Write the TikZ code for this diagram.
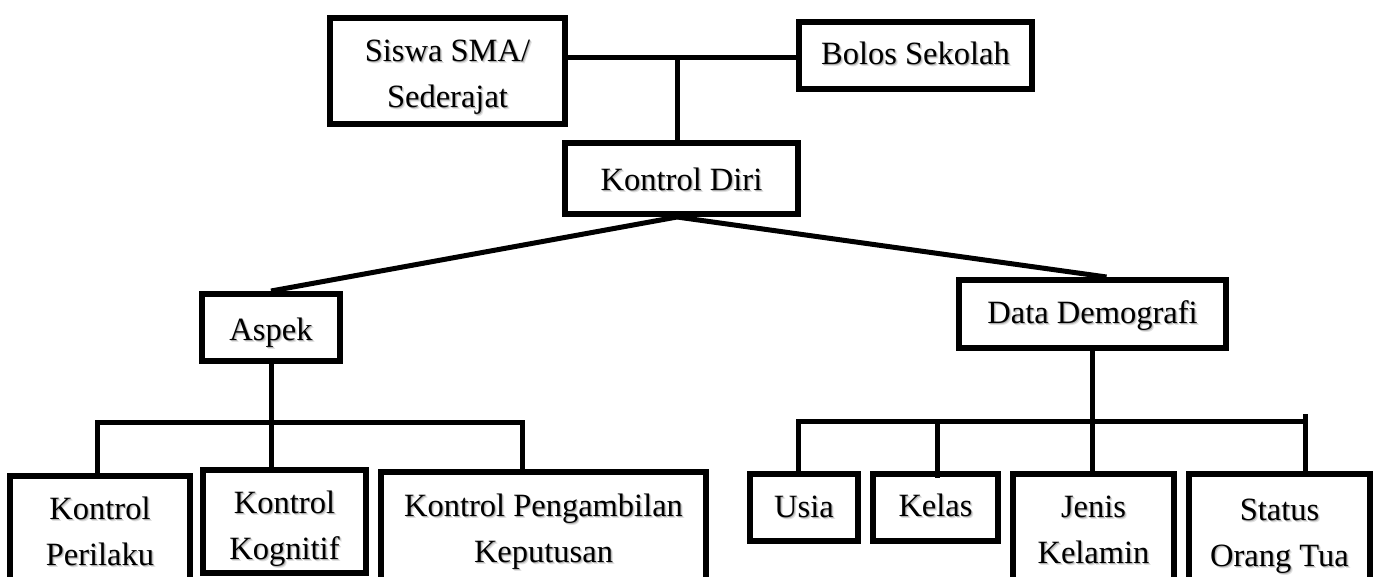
\documentclass[tikz,border=0pt]{standalone}
\usepackage{fontspec}
\setmainfont{Liberation Serif}
\newcommand\sh[1]{\leavevmode\rlap{\hspace{2pt}\raisebox{-2pt}{\textcolor{black!12}{#1}}}\rlap{\hspace{1pt}\raisebox{-1pt}{\textcolor{black!30}{#1}}}#1}
\newcommand\tx[2]{\raisebox{#1}[\height][\depth]{\begin{tabular}{@{}c@{}}#2\end{tabular}}}
\begin{document}
\begin{tikzpicture}[x=1pt,y=-1pt,
  box/.style={draw, line width=6pt, inner sep=0pt, align=center,
    font=\fontsize{32.5}{46}\selectfont},
  conn/.style={line width=5pt}]
\useasboundingbox (0,0) rectangle (1378,576);
\clip (0,0) rectangle (1378,576);
\fill[white] (0,0) rectangle (1378,576);
% nodes
\node[box, minimum width=235pt, minimum height=106pt] (siswa) at (447.5,71) {\tx{-4pt}{\sh{Siswa SMA/}\\\sh{Sederajat}}};
\node[box, minimum width=233pt, minimum height=67pt] (bolos) at (915.5,55.5) {\tx{0pt}{\sh{Bolos Sekolah}}};
\node[box, minimum width=233pt, minimum height=71pt] (kd) at (681.5,178.5) {\tx{-3pt}{\sh{Kontrol Diri}}};
\node[box, minimum width=138pt, minimum height=67pt] (aspek) at (271,327.5) {\tx{-4pt}{\sh{Aspek}}};
\node[box, minimum width=267pt, minimum height=68pt] (dd) at (1092.5,314) {\tx{-0.5pt}{\sh{Data Demografi}}};
\node[box, minimum width=180pt, minimum height=112pt] (perilaku) at (100,532) {\tx{-1pt}{\sh{Kontrol}\\\sh{Perilaku}}};
\node[box, minimum width=163pt, minimum height=103pt] (kognitif) at (284.5,521.5) {\tx{-6pt}{\sh{Kontrol}\\\sh{Kognitif}}};
\node[box, minimum width=325pt, minimum height=113pt] (peng) at (543.5,528.5) {\tx{-1.5pt}{\sh{Kontrol Pengambilan}\\\sh{Keputusan}}};
\node[box, minimum width=108pt, minimum height=67pt] (usia) at (804,507.5) {\tx{-1pt}{\sh{Usia}}};
\node[box, minimum width=125pt, minimum height=67pt] (kelas) at (935.5,507.5) {\tx{0pt}{\sh{Kelas}}};
\node[box, minimum width=161pt, minimum height=112pt] (jenis) at (1093.5,530) {\tx{-1.5pt}{\sh{Jenis}\\\sh{Kelamin}}};
\node[box, minimum width=181pt, minimum height=116pt] (status) at (1279.5,532) {\tx{-2pt}{\sh{Status}\\\sh{Orang Tua}}};
% junction coordinates
\coordinate (j1) at (677,57.5);
\coordinate (lb1) at (97,422);
\coordinate (lb3) at (522,422);
\coordinate (rb1) at (798,421.5);
\coordinate (rb4) at (1305,421.5);
\coordinate (kb) at (937,421.5);
\coordinate (kbend) at (937,478);
\coordinate (rn) at (1305,414);
% connectors
\draw[conn] (siswa.east |- j1) -- (bolos.west |- j1);
\draw[conn] (j1) -- (j1 |- kd.north);
\draw[conn] (j1 |- kd.south) -- (aspek.north);
\draw[conn] (j1 |- kd.south) -- ([xshift=14pt]dd.north);
\draw[conn] (aspek.south) -- (aspek.south |- kognitif.north);
\draw[conn] (lb1 |- perilaku.north) -- (lb1) -- (lb3) -- (lb3 |- peng.north);
\draw[conn] (dd.south) -- (dd.south |- jenis.north);
\draw[conn] (rb1 |- usia.north) -- (rb1) -- (rb4);
\draw[conn] (kb) -- (kbend);
\draw[conn] (rn) -- (rn |- status.north);
\end{tikzpicture}
\end{document}
